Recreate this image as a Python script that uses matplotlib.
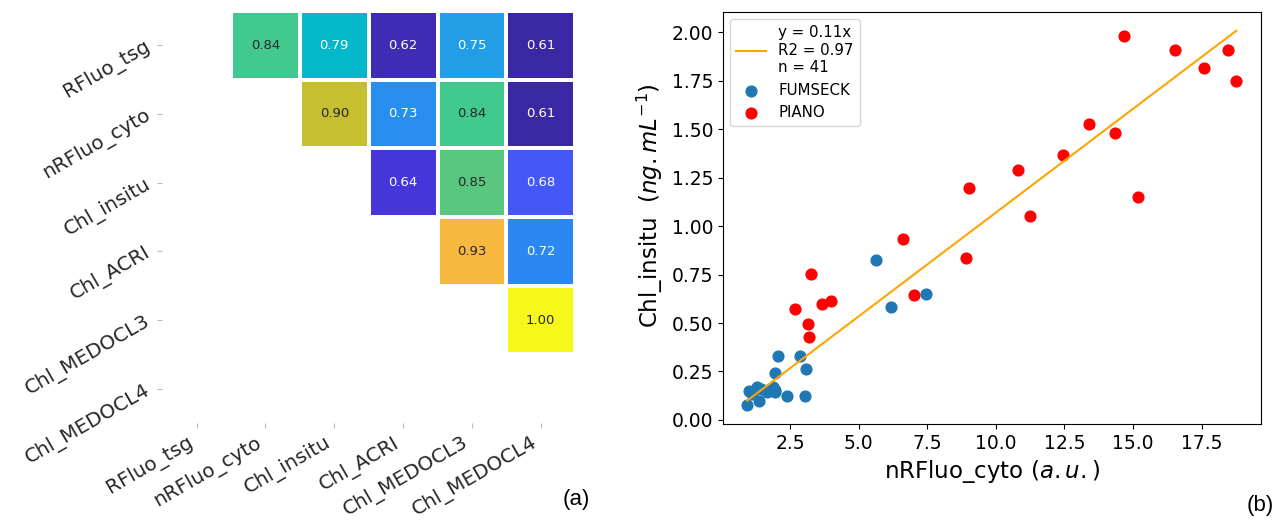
import numpy as np
import matplotlib
matplotlib.use("Agg")
import matplotlib.pyplot as plt
from matplotlib.colors import LinearSegmentedColormap
import seaborn as sns

# --- panel (a): correlation matrix (upper triangle only) ---
labels = ['RFluo_tsg', 'nRFluo_cyto', 'Chl_insitu', 'Chl_ACRI', 'Chl_MEDOCL3', 'Chl_MEDOCL4']
corr_rows = [
    [0.84, 0.79, 0.62, 0.75, 0.61],
    [0.90, 0.73, 0.84, 0.61],
    [0.64, 0.85, 0.68],
    [0.93, 0.72],
    [1.00],
]

# --- panel (b): scatter, Chl_insitu vs nRFluo_cyto ---
fumseck_x = [0.93, 0.99, 1.12, 1.27, 1.35, 1.45, 1.66, 1.75, 1.87, 1.95, 1.96, 1.95,
             2.06, 2.39, 2.84, 3.02, 3.06, 5.61, 6.16, 7.46]
fumseck_y = [0.075, 0.149, 0.135, 0.169, 0.100, 0.160, 0.143, 0.160, 0.169, 0.145, 0.152, 0.241,
             0.332, 0.121, 0.332, 0.121, 0.264, 0.826, 0.582, 0.652]
piano_x = [14.67, 16.53, 18.48, 17.59, 18.77, 13.38, 14.35, 12.44, 10.82, 9.02, 15.19,
           11.26, 6.61, 8.91, 3.24, 7.01, 3.99, 3.65, 2.69, 3.14, 3.20]
piano_y = [1.983, 1.911, 1.911, 1.818, 1.748, 1.526, 1.480, 1.365, 1.289, 1.195, 1.148,
           1.052, 0.936, 0.833, 0.754, 0.644, 0.611, 0.597, 0.572, 0.496, 0.429]
fit_slope = 0.107
fit_label = "y = 0.11x\nR2 = 0.97\nn = 41"

# build the full matrix with NaN below/on the diagonal
n = len(labels)
mat = np.full((n, n), np.nan)
for i, row in enumerate(corr_rows):
    mat[i, i + 1:] = row

# colormap sampled from the reference cells
cmap_nodes = [(0.61, '#3a27a4'), (0.64, '#4636dc'), (0.68, '#4558f8'), (0.72, '#2b87f2'),
              (0.75, '#219fe6'), (0.79, '#02b8cc'), (0.84, '#43c98f'), (0.90, '#c6c02e'),
              (0.93, '#f6b73e'), (1.00, '#f6f71a')]
vmin, vmax = 0.61, 1.00
cmap = LinearSegmentedColormap.from_list(
    'corr', [((v - vmin) / (vmax - vmin), c) for v, c in cmap_nodes])

fig = plt.figure(figsize=(12.77, 5.21), dpi=100)
ax1 = fig.add_axes([0.127, 0.188, 0.3234, 0.791])
ax2 = fig.add_axes([0.566, 0.186, 0.4213, 0.791])

sns.heatmap(mat, mask=np.isnan(mat), cmap=cmap, vmin=vmin, vmax=vmax,
            annot=True, fmt='.2f', annot_kws={'size': 9.5},
            linewidths=1.5, linecolor='white', cbar=False,
            xticklabels=labels, yticklabels=labels, ax=ax1)
ax1.tick_params(axis='both', labelsize=14.3, colors='#bbbbbb', labelcolor='#262626')
ax1.tick_params(axis='y', pad=6)
for lab in ax1.get_yticklabels():
    lab.set_rotation(30)
    lab.set_ha('right')
    lab.set_va('center')
    lab.set_rotation_mode('anchor')
for lab in ax1.get_xticklabels():
    lab.set_rotation(30)
    lab.set_ha('right')

# scatter + regression line
all_x = fumseck_x + piano_x
xline = np.array([min(all_x), max(all_x)])
ax2.plot(xline, fit_slope * xline, color='orange', lw=1.5, label=fit_label)
ax2.scatter(fumseck_x, fumseck_y, s=60, color='#1f77b4', label='FUMSECK')
ax2.scatter(piano_x, piano_y, s=60, color='red', label='PIANO')
ax2.set_yticks([0.0, 0.25, 0.5, 0.75, 1.0, 1.25, 1.5, 1.75, 2.0])
ax2.set_xticks([2.5, 5.0, 7.5, 10.0, 12.5, 15.0, 17.5])
ax2.tick_params(labelsize=13.5)
ax2.set_xlabel(r"nRFluo_cyto ($a.u.$)", fontsize=16.5)
ax2.set_ylabel(r"Chl_insitu  ($ng.mL^{-1}$)", fontsize=16.5)
ax2.yaxis.set_label_coords(-0.108, 0.53)
ax2.legend(loc='upper left', fontsize=10.8)

fig.text(0.451, 0.042, '(a)', fontsize=16, family='Liberation Sans', ha='center', va='center')
fig.text(0.987, 0.030, '(b)', fontsize=16, family='Liberation Sans', ha='center', va='center')

fig.savefig('out.png', dpi=100)
